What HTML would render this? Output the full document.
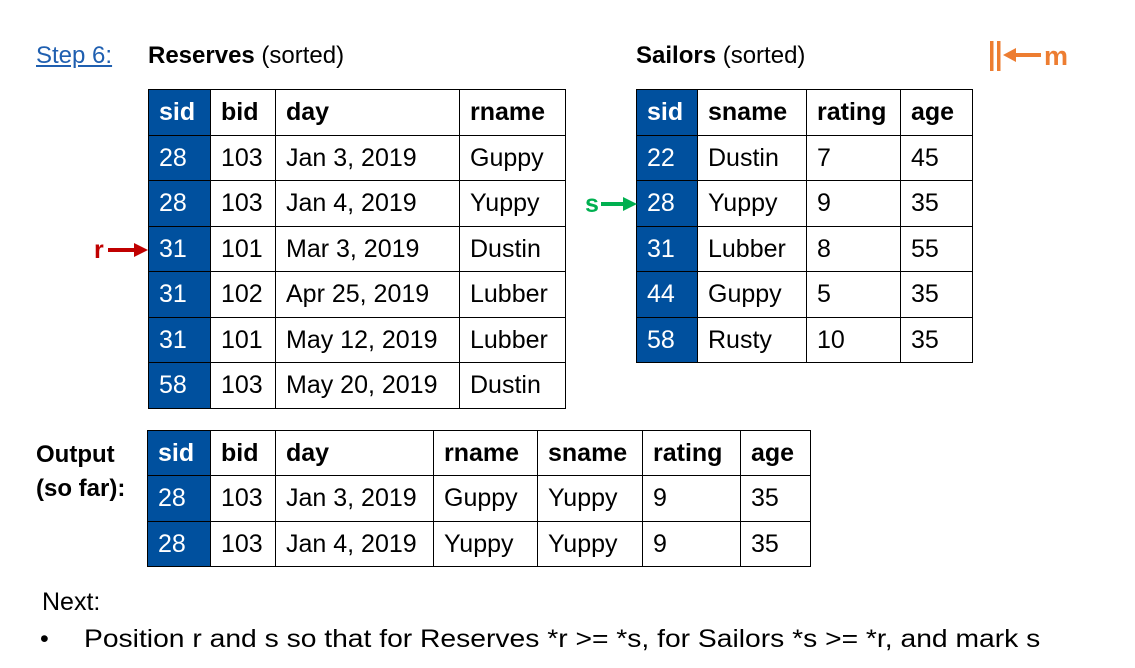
<!DOCTYPE html>
<html><head><meta charset="utf-8"><style>
body{margin:0;width:1135px;height:668px;background:#fff;position:relative;overflow:hidden;font-family:"Liberation Sans",sans-serif;color:#000}
.a{position:absolute;white-space:nowrap}
table{position:absolute;border-collapse:collapse;table-layout:fixed}
td{border:1.5px solid #000;padding:0 0 0 10px;font-size:25px;white-space:nowrap;overflow:hidden}
tr.h td{font-weight:bold}
td.b{background:#00509e;color:#fff}
</style></head><body>
<div class="a" style="left:36px;top:42px;font-size:24px;color:#1f5fb0;text-decoration:underline">Step 6:</div>
<div class="a" style="left:148px;top:42px;font-size:24px"><b>Reserves</b> (sorted)</div>
<div class="a" style="left:636px;top:42px;font-size:24px"><b>Sailors</b> (sorted)</div>
<svg class="a" style="left:985px;top:38px" width="100" height="36">
<rect x="5" y="3" width="3.5" height="30" fill="#ed7d31"/><rect x="12" y="3" width="3.5" height="30" fill="#ed7d31"/>
<polygon points="18,17 31,10 31,24" fill="#ed7d31"/><rect x="30" y="15" width="26" height="4" fill="#ed7d31"/>
<text x="59" y="27" font-size="27" font-weight="bold" fill="#ed7d31" font-family="Liberation Sans">m</text></svg>

<table style="left:148px;top:89px;width:417px">
<col style="width:62px"><col style="width:65px"><col style="width:184px"><col style="width:106px">
<tr class="h" style="height:46px"><td class="b">sid</td><td>bid</td><td>day</td><td>rname</td></tr>
<tr style="height:45px"><td class="b">28</td><td>103</td><td>Jan 3, 2019</td><td>Guppy</td></tr>
<tr style="height:46px"><td class="b">28</td><td>103</td><td>Jan 4, 2019</td><td>Yuppy</td></tr>
<tr style="height:45px"><td class="b">31</td><td>101</td><td>Mar 3, 2019</td><td>Dustin</td></tr>
<tr style="height:46px"><td class="b">31</td><td>102</td><td>Apr 25, 2019</td><td>Lubber</td></tr>
<tr style="height:45px"><td class="b">31</td><td>101</td><td>May 12, 2019</td><td>Lubber</td></tr>
<tr style="height:46px"><td class="b">58</td><td>103</td><td>May 20, 2019</td><td>Dustin</td></tr>
</table>

<table style="left:636px;top:89px;width:336px">
<col style="width:61px"><col style="width:109px"><col style="width:94px"><col style="width:72px">
<tr class="h" style="height:46px"><td class="b">sid</td><td>sname</td><td>rating</td><td>age</td></tr>
<tr style="height:45px"><td class="b">22</td><td>Dustin</td><td>7</td><td>45</td></tr>
<tr style="height:46px"><td class="b">28</td><td>Yuppy</td><td>9</td><td>35</td></tr>
<tr style="height:45px"><td class="b">31</td><td>Lubber</td><td>8</td><td>55</td></tr>
<tr style="height:46px"><td class="b">44</td><td>Guppy</td><td>5</td><td>35</td></tr>
<tr style="height:45px"><td class="b">58</td><td>Rusty</td><td>10</td><td>35</td></tr>
</table>

<svg class="a" style="left:92px;top:236px" width="58" height="28">
<text x="2" y="22" font-size="25" font-weight="bold" fill="#c00000" font-family="Liberation Sans">r</text>
<rect x="16" y="12" width="26" height="4" fill="#c00000"/><polygon points="56,14 42,7 42,21" fill="#c00000"/></svg>
<svg class="a" style="left:583px;top:190px" width="55" height="28">
<text x="2" y="22" font-size="25" font-weight="bold" fill="#00b050" font-family="Liberation Sans">s</text>
<rect x="18" y="12" width="22" height="4" fill="#00b050"/><polygon points="54,14 40,7 40,21" fill="#00b050"/></svg>

<div class="a" style="left:36px;top:438px;font-size:24px;font-weight:bold;line-height:34px">Output<br>(so far):</div>
<table style="left:147px;top:430px;width:663px">
<col style="width:63px"><col style="width:65px"><col style="width:158px"><col style="width:104px"><col style="width:105px"><col style="width:98px"><col style="width:70px">
<tr class="h" style="height:45px"><td class="b">sid</td><td>bid</td><td>day</td><td>rname</td><td>sname</td><td>rating</td><td>age</td></tr>
<tr style="height:46px"><td class="b">28</td><td>103</td><td>Jan 3, 2019</td><td>Guppy</td><td>Yuppy</td><td>9</td><td>35</td></tr>
<tr style="height:45px"><td class="b">28</td><td>103</td><td>Jan 4, 2019</td><td>Yuppy</td><td>Yuppy</td><td>9</td><td>35</td></tr>
</table>

<div class="a" style="left:42px;top:588px;font-size:25px">Next:</div>
<div class="a" style="left:40px;top:625px;font-size:25px">•</div>
<div class="a" style="left:84px;top:625px;font-size:25px;transform:scaleX(1.13);transform-origin:0 0">Position r and s so that for Reserves *r &gt;= *s, for Sailors *s &gt;= *r, and mark s</div>
</body></html>
